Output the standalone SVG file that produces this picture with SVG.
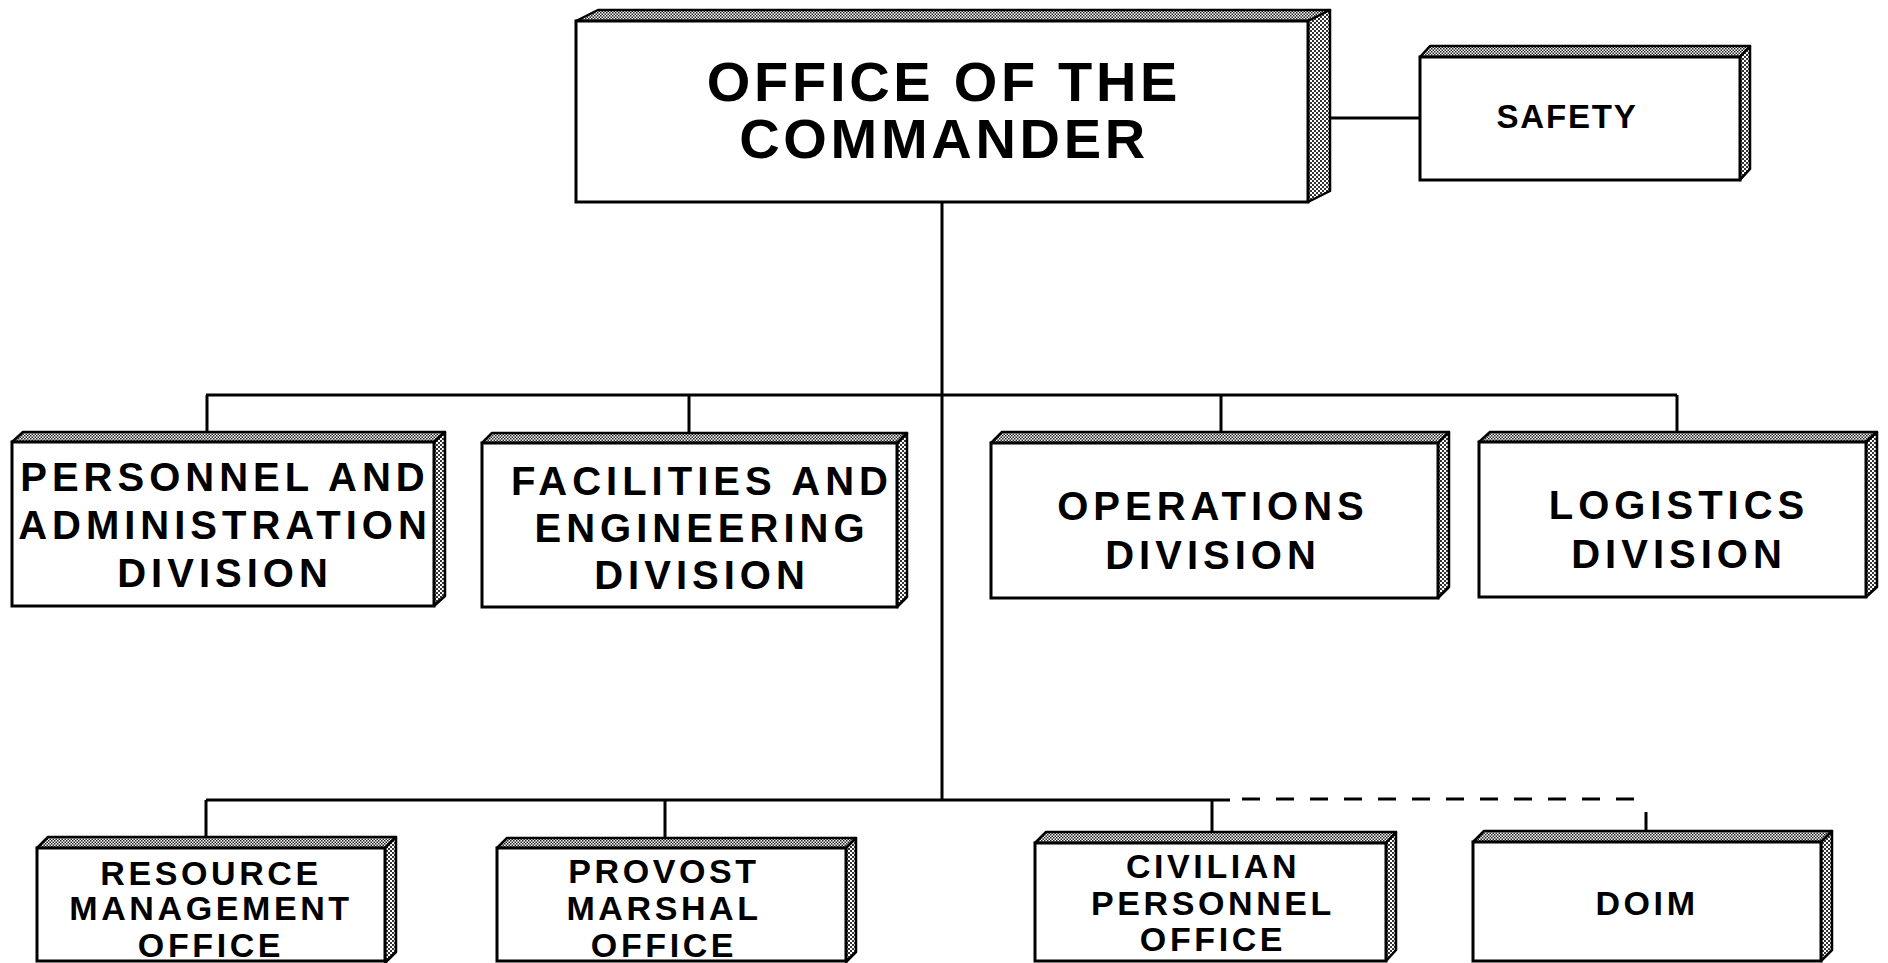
<svg xmlns="http://www.w3.org/2000/svg" width="1888" height="963" viewBox="0 0 1888 963">
<defs>
<pattern id="stip" width="3" height="3" patternUnits="userSpaceOnUse">
<rect width="3" height="3" fill="#ffffff"/>
<rect x="0" y="0" width="1.5" height="1.5" fill="#222"/>
<rect x="1.5" y="1.5" width="1.5" height="1.5" fill="#222"/>
</pattern>
<pattern id="stip2" width="4" height="4" patternUnits="userSpaceOnUse">
<rect width="4" height="4" fill="#ffffff"/>
<rect x="0" y="0" width="2" height="2" fill="#333"/>
<rect x="2" y="2" width="2" height="2" fill="#333"/>
</pattern>
</defs>
<style>
.front{fill:#fff;stroke:#000;stroke-width:3;stroke-linejoin:miter}
.top{fill:url(#stip);stroke:#000;stroke-width:2.5;stroke-linejoin:round}
.side{fill:url(#stip2);stroke:#000;stroke-width:2.5;stroke-linejoin:round}
.ln{fill:none;stroke:#000;stroke-width:3}
.dash{fill:none;stroke:#000;stroke-width:3;stroke-dasharray:18 16}
text{font-family:"Liberation Sans",Arial,Helvetica,sans-serif;font-weight:bold;fill:#000;text-anchor:middle}
.t1{font-size:56px;letter-spacing:3.7px}
.t2{font-size:40px;letter-spacing:5px}
.t3{font-size:34px;letter-spacing:3.6px}
.t4{font-size:33px;letter-spacing:1.8px}
</style>
<rect width="1888" height="963" fill="#fff"/>

<g id="connectors">
<path class="ln" d="M1330 118 H1421"/>
<path class="ln" d="M942 202 V800"/>
<path class="ln" d="M206 395 H1677"/>
<path class="ln" d="M207 395 V432"/>
<path class="ln" d="M689 395 V433"/>
<path class="ln" d="M1221 395 V432"/>
<path class="ln" d="M1677 395 V432"/>
<path class="ln" d="M206 800 H1230"/>
<path class="ln" d="M206 800 V837"/>
<path class="ln" d="M665 800 V838"/>
<path class="ln" d="M1212 800 V832"/>
<path class="dash" d="M1242 799 H1647"/>
<path class="ln" d="M1646 812 V831"/>
</g>

<g id="commander">
<polygon class="top" points="576,21 598,10 1330,10 1308,21"/>
<polygon class="side" points="1308,21 1330,10 1330,191 1308,202"/>
<rect class="front" x="576" y="21" width="732" height="181"/>
<text class="t1" x="944" y="101">OFFICE OF THE</text>
<text class="t1" x="944" y="158">COMMANDER</text>
</g>

<g id="safety">
<polygon class="top" points="1420,57 1430,46 1750,46 1740,57"/>
<polygon class="side" points="1740,57 1750,46 1750,169 1740,180"/>
<rect class="front" x="1420" y="57" width="320" height="123"/>
<text class="t4" x="1567" y="128">SAFETY</text>
</g>

<g id="personnel">
<polygon class="top" points="12,442 23,432 445,432 434,442"/>
<polygon class="side" points="434,442 445,432 445,596 434,606"/>
<rect class="front" x="12" y="442" width="422" height="164"/>
<text class="t2" x="225" y="491">PERSONNEL AND</text>
<text class="t2" x="225" y="539">ADMINISTRATION</text>
<text class="t2" x="225" y="587">DIVISION</text>
</g>

<g id="facilities">
<polygon class="top" points="482,443 492,433 907,433 897,443"/>
<polygon class="side" points="897,443 907,433 907,597 897,607"/>
<rect class="front" x="482" y="443" width="415" height="164"/>
<text class="t2" x="702" y="495">FACILITIES AND</text>
<text class="t2" x="702" y="542">ENGINEERING</text>
<text class="t2" x="702" y="589">DIVISION</text>
</g>

<g id="operations">
<polygon class="top" points="991,443 1002,432 1449,432 1438,443"/>
<polygon class="side" points="1438,443 1449,432 1449,587 1438,598"/>
<rect class="front" x="991" y="443" width="447" height="155"/>
<text class="t2" x="1213" y="520">OPERATIONS</text>
<text class="t2" x="1213" y="569">DIVISION</text>
</g>

<g id="logistics">
<polygon class="top" points="1479,442 1490,432 1877,432 1866,442"/>
<polygon class="side" points="1866,442 1877,432 1877,587 1866,597"/>
<rect class="front" x="1479" y="442" width="387" height="155"/>
<text class="t2" x="1679" y="519">LOGISTICS</text>
<text class="t2" x="1679" y="568">DIVISION</text>
</g>

<g id="resource">
<polygon class="top" points="37,848 48,837 396,837 385,848"/>
<polygon class="side" points="385,848 396,837 396,952 385,963"/>
<rect class="front" x="37" y="848" width="348" height="113"/>
<text class="t3" x="211" y="885">RESOURCE</text>
<text class="t3" x="211" y="920">MANAGEMENT</text>
<text class="t3" x="211" y="957">OFFICE</text>
</g>

<g id="provost">
<polygon class="top" points="497,848 507,838 856,838 846,848"/>
<polygon class="side" points="846,848 856,838 856,952 846,962"/>
<rect class="front" x="497" y="848" width="349" height="113"/>
<text class="t3" x="664" y="883">PROVOST</text>
<text class="t3" x="664" y="920">MARSHAL</text>
<text class="t3" x="664" y="957">OFFICE</text>
</g>

<g id="civilian">
<polygon class="top" points="1035,843 1046,832 1396,832 1386,843"/>
<polygon class="side" points="1386,843 1396,832 1396,950 1386,961"/>
<rect class="front" x="1035" y="843" width="351" height="118"/>
<text class="t3" x="1213" y="878">CIVILIAN</text>
<text class="t3" x="1213" y="915">PERSONNEL</text>
<text class="t3" x="1213" y="951">OFFICE</text>
</g>

<g id="doim">
<polygon class="top" points="1473,842 1484,831 1832,831 1821,842"/>
<polygon class="side" points="1821,842 1832,831 1832,950 1821,961"/>
<rect class="front" x="1473" y="842" width="348" height="119"/>
<text class="t3" x="1647" y="915">DOIM</text>
</g>
</svg>
